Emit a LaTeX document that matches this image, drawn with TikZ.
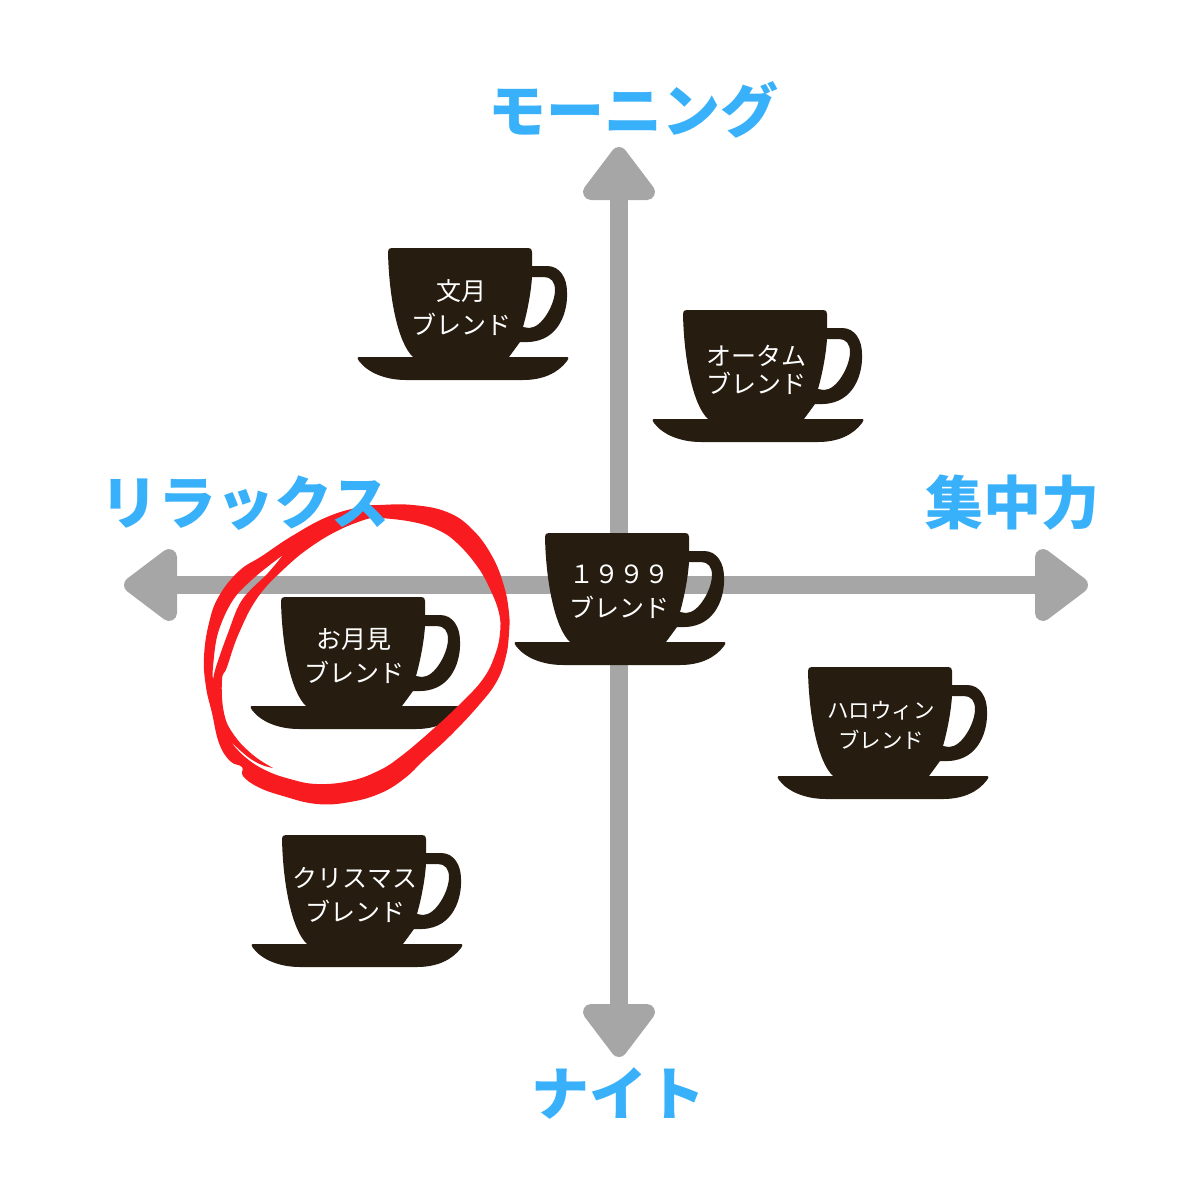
\documentclass[tikz,border=0pt]{standalone}
\usepackage{fontspec}
\newfontfamily\cjk{Noto Sans CJK JP}
\definecolor{cupbrown}{HTML}{261C10}
\definecolor{axisgray}{HTML}{A6A6A6}
\definecolor{labelblue}{HTML}{38B0FA}
\definecolor{penred}{HTML}{F81C20}
\tikzset{
    axisline/.style={draw=axisgray, line width=18pt, shorten >=30pt, shorten <=30pt},
    axishead/.pic={
        \filldraw[axisgray, line width=16pt, line join=round] (8,0) -- (45,-28) -- (45,28) -- cycle;
    },
    quadlabel/.style={text=labelblue, inner sep=0pt, font=\cjk\bfseries\fontsize{58}{60}\selectfont},
    cuplabel/.style={text=white, inner sep=0pt, align=center, font=\cjk\fontsize{25}{34}\selectfont},
    cup/.pic={
        \fill[cupbrown, even odd rule]
            (0,4) .. controls (0,1) and (1,0) .. (4,0) -- (140,0)
            .. controls (143,0) and (144,1) .. (144,4) -- (144,18) -- (159,18)
            .. controls (172,18) and (179,30) .. (179,44)
            .. controls (180,62) and (172,93) .. (140,94)
            -- (132,94) -- (121,109) -- (25,109)
            .. controls (10,95) and (1,50) .. (0,4) -- cycle
            (144,29) -- (156,29) .. controls (163,29) and (167,34) .. (167,42)
            .. controls (167,56) and (154,80) .. (141,80)
            -- (135,79) .. controls (139,65) and (143,45) .. (144,29) -- cycle;
        \fill[cupbrown]
            (-28,109) -- (178,109)
            .. controls (181,109) and (181,110) .. (179,113)
            .. controls (170,125) and (155,132) .. (135,132)
            -- (18,132) .. controls (-2,132) and (-20,125) .. (-29,113)
            .. controls (-31,110) and (-31,109) .. (-28,109) -- cycle;
    }
}
\begin{document}
\begin{tikzpicture}[x=1pt, y=-1pt]
    \useasboundingbox (0,0) rectangle (1200,1200);
    % axes
    \coordinate (west) at (124,585);
    \coordinate (east) at (1088,585);
    \coordinate (north) at (619,147);
    \coordinate (south) at (619,1057);
    \draw[axisline] (west) -- (east);
    \draw[axisline] (north) -- (south);
    \pic at (west) {axishead};
    \pic[rotate=180] at (east) {axishead};
    \pic[rotate=-90] at (north) {axishead};
    \pic[rotate=90] at (south) {axishead};
    % cups
    \pic at (388,248) {cup};
    \pic at (683,310) {cup};
    \pic at (545,533) {cup};
    \pic at (281,597) {cup};
    \pic at (808,667) {cup};
    \pic at (282,835) {cup};
    \node[cuplabel] (fumizuki) at (461,308) {文月\\ブレンド};
    \node[cuplabel, font=\cjk\fontsize{25}{28}\selectfont] (autumn) at (756,370) {オータム\\ブレンド};
    \node[cuplabel] (base) at (619,592) {１９９９\\ブレンド};
    \node[cuplabel] (otsukimi) at (354,656) {お月見\\ブレンド};
    \node[cuplabel, font=\cjk\fontsize{21.5}{30}\selectfont] (halloween) at (881,725) {ハロウィン\\ブレンド};
    \node[cuplabel] (xmas) at (355,895) {クリスマス\\ブレンド};
    % red pen circle
    \fill[penred, even odd rule]
        plot[smooth cycle, tension=.7] coordinates {(380,505) (413,505) (447,512) (472,529) (492,556) (504,586) (509,613) (509,633) (506,656) (497,681) (479,705) (451,735) (424,760) (405,778) (381,793) (350,802) (317,804) (283,796) (258,787) (243,776) (242,767) (230,761) (219,743) (212,713) (206,687) (204,657) (209,623) (219,596) (239,571) (262,556) (292,536) (327,517) (360,507)}
        plot[smooth, tension=.7] coordinates {(367,519) (380,518) (413,522) (438,530) (457,543) (477,566) (490,589) (499,613) (500,633) (495,655) (483,679) (460,704) (431,731) (400,757) (378,771) (350,781) (317,784) (290,779) (265,770) (245,757) (230,741)}
        -- plot[smooth, tension=.6] coordinates {(230,741) (248,757) (262,765) (273,768)}
        -- plot[smooth, tension=.7] coordinates {(273,768) (253,755) (234,735) (224,713) (222,680) (227,667) (239,633) (258,597) (285,568) (312,546) (341,529) (367,519)}
        -- cycle
        plot[smooth, tension=.6] coordinates {(283,555) (255,577) (233,600) (218,633) (213,667) (213,680)}
        -- plot[smooth, tension=.6] coordinates {(213,680) (216,667) (228,633) (242,600) (268,573) (283,555)}
        -- cycle;
    % quadrant labels
    \node[quadlabel] (morning) at (633,110) {モーニング};
    \node[quadlabel] (night) at (618,1093) {ナイト};
    \node[quadlabel] (relax) at (245,503) {リラックス};
    \node[quadlabel] (focus) at (1012,503) {集中力};
\end{tikzpicture}
\end{document}
